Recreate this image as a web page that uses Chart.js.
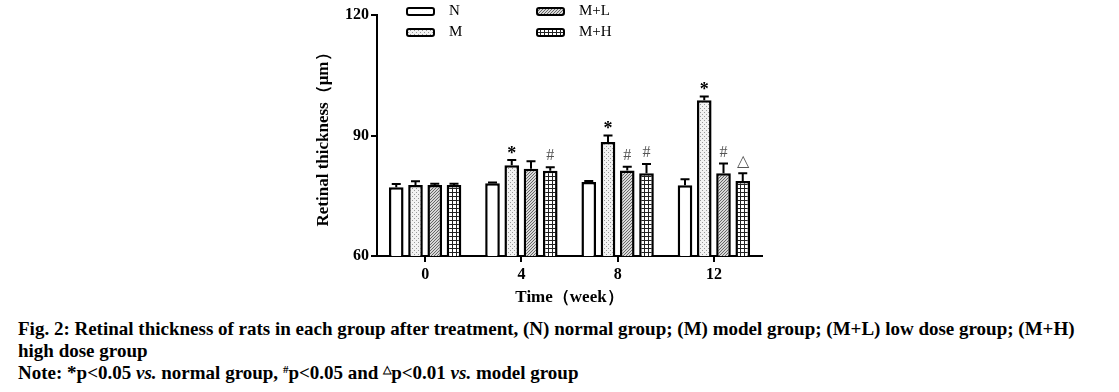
<!DOCTYPE html>
<html>
<head>
<meta charset="utf-8">
<script src="https://cdn.jsdelivr.net/npm/chart.js@4"></script>
<style>
  body { margin: 0; background: #fff; width: 1119px; height: 392px; overflow: hidden; }
  #wrap { position: absolute; left: 0; top: 0; width: 1119px; height: 312px; }
  .cap { position: absolute; left: 18px; top: 318px; width: 1082px;
         font-family: "Liberation Serif", "Times New Roman", serif; font-weight: bold;
         font-size: 19px; line-height: 22px; color: #000; }
  .cap sup { font-size: 11px; vertical-align: 6px; line-height: 0; }
</style>
</head>
<body>
<div id="wrap"><canvas id="chart"></canvas></div>
<div class="cap">
  Fig. 2: Retinal thickness of rats in each group after treatment, (N) normal group; (M) model group; (M+L) low dose group; (M+H) high dose group<br>
  Note: *p&lt;0.05 <i>vs.</i> normal group, <sup>#</sup>p&lt;0.05 and <sup>△</sup>p&lt;0.01 <i>vs.</i> model group
</div>
<script>
var weeks = ["0", "4", "8", "12"];
var groups = ["N", "M", "M+L", "M+H"];

var valN  = [77.1, 78.1, 78.4, 77.6];
var valM  = [77.7, 82.6, 88.4, 98.8];
var valML = [77.7, 81.7, 81.3, 80.6];
var valMH = [77.7, 81.2, 80.6, 78.7];

var errN  = [0.8, 0.2, 0.3, 1.5];
var errM  = [0.9, 1.3, 1.6, 0.9];
var errML = [0.3, 1.9, 0.9, 2.4];
var errMH = [0.3, 0.9, 2.3, 1.9];

var markN  = ["", "", "", ""];
var markM  = ["", "*", "*", "*"];
var markML = ["", "", "#", "#"];
var markMH = ["", "#", "#", "△"];

function makePattern(kind) {
  var c = document.createElement('canvas');
  var x = c.getContext('2d');
  if (kind == 'dots') {
    c.width = 4; c.height = 4;
    x.fillStyle = '#f2f2f2'; x.fillRect(0, 0, 4, 4);
    x.fillStyle = '#999';
    x.fillRect(0, 0, 1, 1); x.fillRect(2, 2, 1, 1);
  } else if (kind == 'hatch') {
    c.width = 3; c.height = 3;
    x.fillStyle = '#d8d8d8'; x.fillRect(0, 0, 3, 3);
    x.fillStyle = '#666';
    x.fillRect(0, 2, 1, 1); x.fillRect(1, 1, 1, 1); x.fillRect(2, 0, 1, 1);
  } else {
    c.width = 4; c.height = 4;
    x.fillStyle = '#fff'; x.fillRect(0, 0, 4, 4);
    x.fillStyle = '#222';
    x.fillRect(0, 0, 4, 1); x.fillRect(0, 0, 1, 4);
  }
  return document.createElement('canvas').getContext('2d').createPattern(c, 'repeat');
}

var serif = '"Liberation Serif", "Times New Roman", serif';

function ds(label, data, err, marks, fill) {
  return { label: label, data: data, err: err, marks: marks,
           backgroundColor: fill, borderColor: '#000', borderWidth: 2.5,
           borderSkipped: 'bottom',
           categoryPercentage: 0.8, barPercentage: 0.76 };
}

// upward error bars, significance marks, and the 2x2 legend
var extras = {
  id: 'extras',
  afterDatasetsDraw: function(chart) {
    var ctx = chart.ctx, y = chart.scales.y;
    ctx.save();
    chart.data.datasets.forEach(function(d, i) {
      chart.getDatasetMeta(i).data.forEach(function(bar, j) {
        var top = y.getPixelForValue(d.data[j] + d.err[j]);
        ctx.strokeStyle = '#000'; ctx.lineWidth = 2;
        ctx.beginPath();
        ctx.moveTo(bar.x, bar.y); ctx.lineTo(bar.x, top);
        ctx.moveTo(bar.x - 4.5, top); ctx.lineTo(bar.x + 4.5, top);
        ctx.stroke();
        var m = d.marks[j];
        if (m) {
          ctx.textAlign = 'center'; ctx.textBaseline = 'middle';
          if (m == '*') { ctx.fillStyle = '#000'; ctx.font = 'bold 18px ' + serif; ctx.fillText(m, bar.x, top - 6); }
          else { ctx.fillStyle = '#555'; ctx.font = '16px ' + serif; ctx.fillText(m, bar.x, top - 11); }
        }
      });
    });
    // legend
    var a = chart.chartArea;
    var spots = [[a.left + 30, 11], [a.left + 30, 32], [a.left + 160, 11], [a.left + 160, 32]];
    chart.data.datasets.forEach(function(d, i) {
      var p = spots[i];
      ctx.fillStyle = d.backgroundColor; ctx.strokeStyle = '#000'; ctx.lineWidth = 2;
      ctx.beginPath(); ctx.roundRect(p[0], p[1] - 3, 27, 7, 2); ctx.fill(); ctx.stroke();
      ctx.fillStyle = '#000'; ctx.font = '15px ' + serif;
      ctx.textAlign = 'left'; ctx.textBaseline = 'middle';
      ctx.fillText(d.label, p[0] + 42, p[1]);
    });
    ctx.restore();
  }
};

new Chart(document.getElementById('chart'), {
  type: 'bar',
  data: {
    labels: weeks,
    datasets: [
      ds(groups[0], valN, errN, markN, '#fff'),
      ds(groups[1], valM, errM, markM, makePattern('dots')),
      ds(groups[2], valML, errML, markML, makePattern('hatch')),
      ds(groups[3], valMH, errMH, markMH, makePattern('grid'))
    ]
  },
  options: {
    responsive: true, maintainAspectRatio: false, animation: false,
    layout: { padding: { left: 309, right: 357, top: 15, bottom: 0 } },
    plugins: { legend: { display: false }, tooltip: { enabled: false } },
    scales: {
      x: {
        afterFit: function(s) { s.height = 56; },
        grid: { display: true, drawOnChartArea: false, offset: false, tickLength: 6, color: '#000', lineWidth: 2 },
        border: { color: '#000', width: 2 },
        ticks: { color: '#000', font: { family: serif, weight: 'bold', size: 16 }, padding: 3 },
        title: { display: true, text: 'Time（week）', color: '#000', padding: { top: 1 },
                 font: { family: serif, weight: 'bold', size: 17 } }
      },
      y: {
        min: 60, max: 120,
        afterFit: function(s) { s.width = 68; },
        grid: { display: true, drawOnChartArea: false, tickLength: 6, color: '#000', lineWidth: 2 },
        border: { color: '#000', width: 2 },
        ticks: { stepSize: 30, color: '#000', font: { family: serif, weight: 'bold', size: 16 }, padding: 2 },
        title: { display: true, text: 'Retinal thickness（μm）', color: '#000', padding: { bottom: 4 },
                 font: { family: serif, weight: 'bold', size: 17 } }
      }
    }
  },
  plugins: [extras]
});
</script>
</body>
</html>
